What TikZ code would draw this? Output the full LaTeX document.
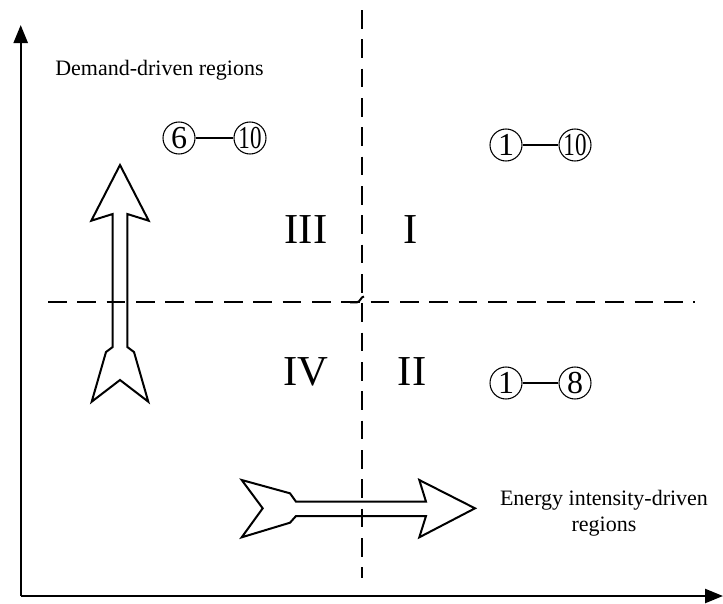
\documentclass[tikz,border=0pt]{standalone}
\usepackage{fontspec}
\setmainfont{Liberation Serif}
\usetikzlibrary{arrows.meta}
\begin{document}
\begin{tikzpicture}[x=0.75pt,y=-0.75pt,
  axis/.style={line width=1.8pt,-{Triangle[length=13.5pt,width=10.5pt]}},
  divider/.style={line width=1.5pt,dash pattern=on 14pt off 8pt},
  fatarrow/.style={line width=1.5pt,miter limit=10},
  label/.style={font=\fontsize{16.5}{19.5}\selectfont,inner sep=0pt},
  quad/.style={font=\fontsize{32}{36}\selectfont,inner sep=0pt},
  cnum/.style={circle,draw,line width=0.8pt,minimum size=24pt,inner sep=0pt,font=\fontsize{24}{26}\selectfont},
  link/.style={line width=1pt}]
\useasboundingbox (0,0) rectangle (723,603);
% axes
\coordinate (O) at (20.7,596);
\coordinate (Ytip) at (20.7,25);
\coordinate (Xtip) at (723,596);
\draw[axis] (O) -- (Ytip);
\draw[axis] (O) -- (Xtip);
% dividers
\coordinate (vtop) at (362,10);
\coordinate (vbot) at (362,578);
\coordinate (hl) at (48,302.3);
\coordinate (hr) at (695,302.3);
\draw[divider] (vtop) -- (vbot);
\draw[divider] (hl) -- (hr);
\draw[line width=1.5pt] (350,302.3) -- (357,302.3) .. controls (360,302.3) and (361,296.5) .. (364,296.5);
% vertical fat arrow
\draw[fatarrow] (120,165) -- (148.7,220.7) -- (127.3,214) -- (127.3,347) -- (134,352) -- (148.3,401.7)
  -- (120,380) -- (91.7,401.7) -- (106,352) -- (112.7,347) -- (112.7,214) -- (91.3,220.7) -- cycle;
% horizontal fat arrow
\draw[fatarrow] (475,508.3) -- (419.3,537.3) -- (426,516) -- (296,516) -- (290,522.7) -- (241.7,537.3)
  -- (262.7,508.3) -- (241.7,480) -- (290,493.3) -- (296,501.7) -- (426,501.7) -- (419.3,480) -- cycle;
% labels
\node[label,anchor=base west] (demand) at (55,75) {Demand-driven regions};
\node[label,align=center] (energy) at (604,513) {Energy intensity-driven\\regions};
\node[quad] (q3) at (306,230) {III};
\node[quad] (q1) at (411,230) {I};
\node[quad] (q4) at (306,372) {IV};
\node[quad] (q2) at (412,372) {II};
% circled numbers
\node[cnum] (a6) at (179,138) {6};
\node[cnum] (a10) at (250,138) {\scalebox{0.72}[1]{10}};
\draw[link] (a6) -- (a10);
\node[cnum] (b1) at (506,145) {1};
\node[cnum] (b10) at (575,145) {\scalebox{0.72}[1]{10}};
\draw[link] (b1) -- (b10);
\node[cnum] (c1) at (506,383) {1};
\node[cnum] (c8) at (575,383) {8};
\draw[link] (c1) -- (c8);
\end{tikzpicture}
\end{document}
